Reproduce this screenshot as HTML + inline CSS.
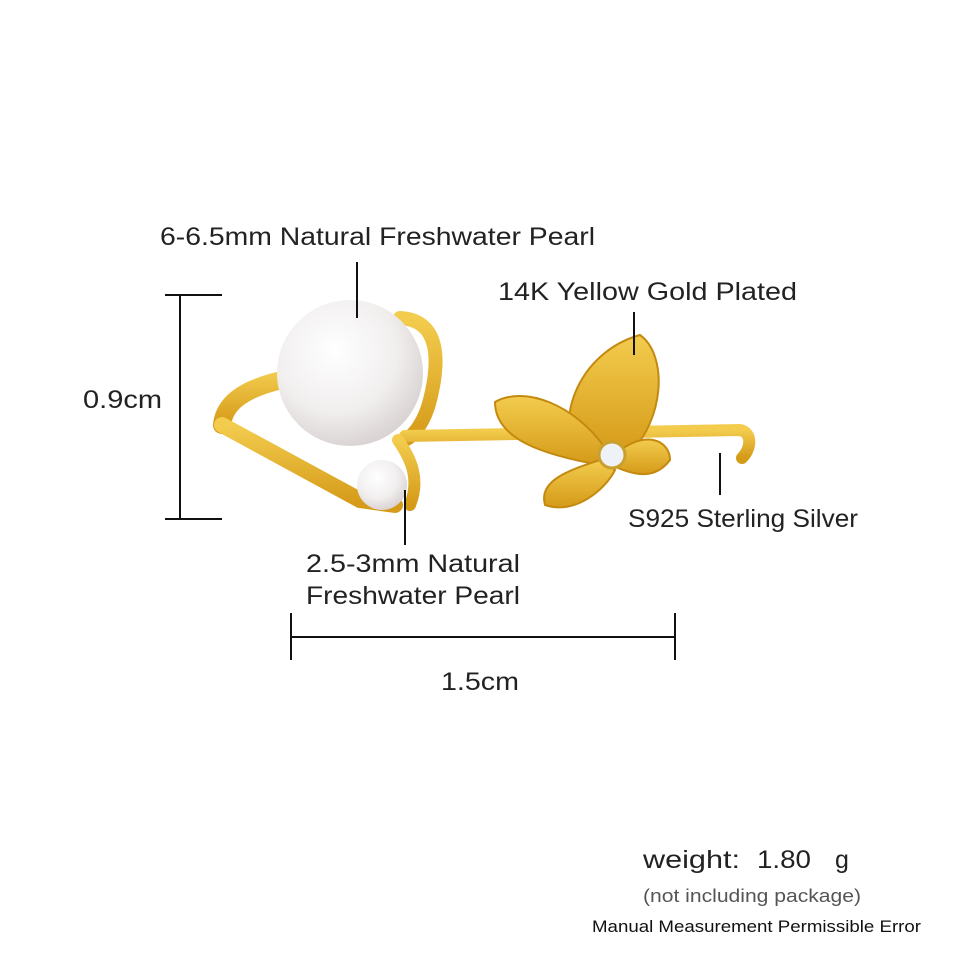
<!DOCTYPE html>
<html><head><style>body{margin:0;background:#fff}</style></head><body>
<svg width="960" height="960" viewBox="0 0 960 960" xmlns="http://www.w3.org/2000/svg">
<defs>
<radialGradient id="pg" cx="0.4" cy="0.35" r="0.7"><stop offset="0" stop-color="#fff"/><stop offset="0.6" stop-color="#f1eeee"/><stop offset="1" stop-color="#d6d0cf"/></radialGradient>
<linearGradient id="gg" x1="0" y1="0" x2="0" y2="1"><stop offset="0" stop-color="#f3cc4e"/><stop offset="1" stop-color="#d59a18"/></linearGradient>
</defs>
<rect width="960" height="960" fill="#fff"/>
<g fill="none" stroke="url(#gg)" stroke-linecap="round">
<path d="M222 425 C225 395 260 380 330 372" stroke-width="18"/>
<path d="M222 425 L360 500 L395 505" stroke-width="16"/>
<path d="M400 318 C440 320 440 360 430 400 C425 420 415 435 405 440" stroke-width="14"/>
<path d="M405 436 L740 430 C752 432 752 448 742 458" stroke-width="12"/>
<path d="M398 440 C412 460 420 480 410 505" stroke-width="12"/>
</g>
<circle cx="350" cy="373" r="73" fill="url(#pg)"/>
<circle cx="382" cy="485" r="25" fill="url(#pg)"/>
<g fill="url(#gg)" stroke="#c48a10" stroke-width="2">
<path d="M575 455 C555 410 585 350 640 335 C668 355 665 420 628 455 Z"/>
<path d="M605 448 C575 405 525 385 495 402 C495 440 545 455 600 465 Z"/>
<path d="M600 460 C570 470 538 480 545 505 C575 515 605 490 615 470 Z"/>
<path d="M618 452 C645 430 670 440 670 460 C655 480 635 475 618 468 Z"/>
</g>
<circle cx="612" cy="455" r="13" fill="#eef2f6" stroke="#c9a030" stroke-width="3"/>
<g stroke="#111" stroke-width="2" fill="none">
<path d="M357 262V318M634 312V355M720 453V495M405 490V545"/>
<path d="M165 295H222M165 519H222M180 295V519"/>
<path d="M291 637H675M291 613V660M675 613V660"/>
</g>
<g font-family="Liberation Sans, sans-serif" fill="#222" font-size="25">
<text x="160" y="245" textLength="435" lengthAdjust="spacingAndGlyphs">6-6.5mm Natural Freshwater Pearl</text>
<text x="498" y="300" textLength="299" lengthAdjust="spacingAndGlyphs">14K Yellow Gold Plated</text>
<text x="83" y="408" textLength="79" lengthAdjust="spacingAndGlyphs">0.9cm</text>
<text x="628" y="527" textLength="230" lengthAdjust="spacingAndGlyphs">S925 Sterling Silver</text>
<text x="306" y="572" textLength="214" lengthAdjust="spacingAndGlyphs">2.5-3mm Natural</text>
<text x="306" y="604" textLength="214" lengthAdjust="spacingAndGlyphs">Freshwater Pearl</text>
<text x="441" y="690" textLength="78" lengthAdjust="spacingAndGlyphs">1.5cm</text>
<text x="643" y="868" textLength="97" lengthAdjust="spacingAndGlyphs">weight:</text>
<text x="757" y="868" textLength="54" lengthAdjust="spacingAndGlyphs">1.80</text>
<text x="835" y="868">g</text>
<text x="643" y="902" font-size="18" fill="#555" textLength="218" lengthAdjust="spacingAndGlyphs">(not including package)</text>
<text x="592" y="932" font-size="17" fill="#111" textLength="329" lengthAdjust="spacingAndGlyphs">Manual Measurement Permissible Error</text>
</g>
</svg>
</body></html>
